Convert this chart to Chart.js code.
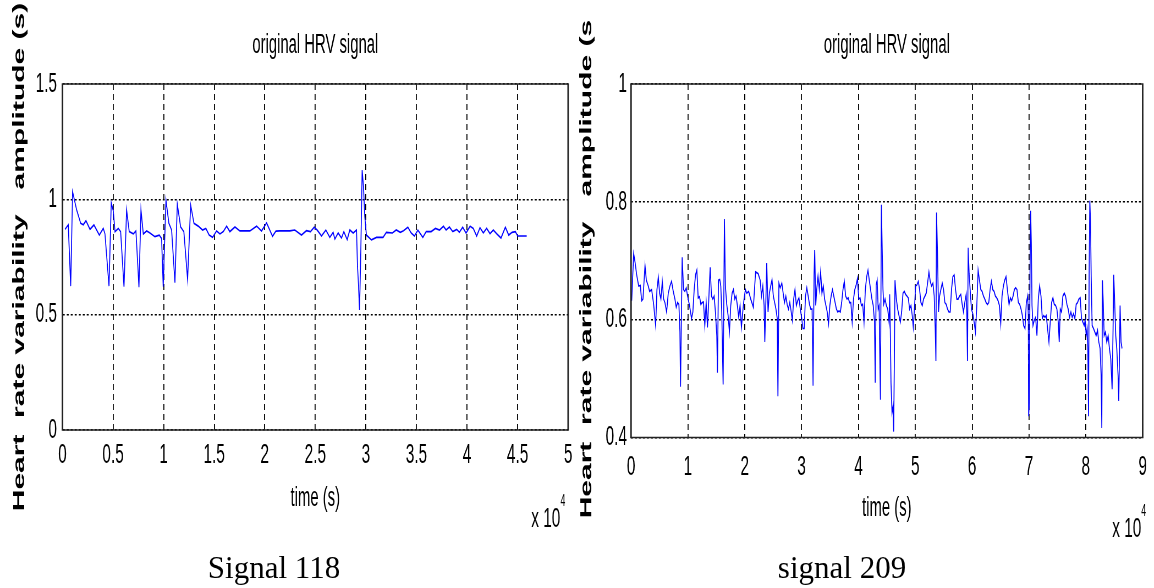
<!DOCTYPE html>
<html>
<head>
<meta charset="utf-8">
<script src="https://cdn.jsdelivr.net/npm/chart.js@4.4.1/dist/chart.umd.min.js"></script>
<style>
    html, body { margin: 0; padding: 0; background: #fff; }
    body { width: 1154px; height: 588px; position: relative; overflow: hidden; }
    /* the source figure is squeezed horizontally, so every panel is drawn wide and scaled down */
    .squeeze { position: absolute; top: 0; width: 1049px; height: 588px; transform: scaleX(0.55); transform-origin: 0 0; }
    .squeeze canvas { display: block; }
    .exp { position: absolute; font: 28px "Liberation Sans", Arial, sans-serif; line-height: 28px; color: #000; white-space: nowrap; }
    .exp span { position: relative; top: -21px; font-size: 16px; }
    .caption { position: absolute; top: 552px; width: 400px; text-align: center; font: 31px "Liberation Serif", "Times New Roman", serif; line-height: 31px; color: #000; }
</style>
</head>
<body>
<div class="squeeze" style="left:0px">
    <canvas id="chart118"></canvas>
    <div class="exp" style="left:966px; top:504px">x 10<span>4</span></div>
</div>
<div class="squeeze" style="left:577px">
    <canvas id="chart209"></canvas>
    <div class="exp" style="left:973px; top:514px">x 10<span>4</span></div>
</div>
<div class="caption" style="left:74px">Signal 118</div>
<div class="caption" style="left:642px">signal 209</div>

<script>
var SQUEEZE = 0.55;
var FONT = '"Liberation Sans", Arial, sans-serif';

// Signal 118 - time in units of 10^4 s, amplitude in s
var time118 = [
    0.025, 0.057, 0.081, 0.100, 0.140, 0.180, 0.206, 0.232, 0.272, 0.311,
    0.364, 0.403, 0.420, 0.460, 0.482, 0.502, 0.519, 0.552, 0.575, 0.608,
    0.634, 0.660, 0.700, 0.726, 0.756, 0.776, 0.799, 0.832, 0.865, 0.914,
    0.957, 0.980, 0.996, 1.023, 1.052, 1.079, 1.112, 1.135, 1.168, 1.200,
    1.237, 1.267, 1.300, 1.342, 1.385, 1.418, 1.450, 1.484, 1.524, 1.557,
    1.590, 1.623, 1.655, 1.705, 1.754, 1.853, 1.919, 1.968, 2.018, 2.077,
    2.110, 2.149, 2.248, 2.297, 2.363, 2.412, 2.452, 2.488, 2.518, 2.561,
    2.604, 2.643, 2.676, 2.693, 2.726, 2.759, 2.782, 2.815, 2.841, 2.874,
    2.907, 2.917, 2.927, 2.937, 2.950, 2.963, 2.976, 2.989, 3.005, 3.055,
    3.105, 3.170, 3.202, 3.262, 3.300, 3.340, 3.372, 3.415, 3.448, 3.480,
    3.514, 3.563, 3.596, 3.645, 3.688, 3.728, 3.767, 3.793, 3.826, 3.859,
    3.898, 3.924, 3.957, 3.990, 4.030, 4.062, 4.095, 4.128, 4.161, 4.194,
    4.227, 4.260, 4.293, 4.336, 4.379, 4.412, 4.445, 4.478, 4.501, 4.590
];
var hrv118 = [
    0.870, 0.889, 0.624, 1.033, 0.954, 0.896, 0.890, 0.907, 0.870, 0.889,
    0.845, 0.874, 0.850, 0.624, 0.985, 0.950, 0.860, 0.874, 0.860, 0.621,
    0.954, 0.860, 0.850, 0.863, 0.619, 0.954, 0.850, 0.863, 0.854, 0.838,
    0.845, 0.830, 0.621, 0.997, 0.896, 0.867, 0.639, 0.980, 0.880, 0.860,
    0.653, 0.975, 0.896, 0.884, 0.867, 0.874, 0.845, 0.835, 0.863, 0.850,
    0.860, 0.884, 0.860, 0.880, 0.863, 0.863, 0.884, 0.863, 0.898, 0.840,
    0.862, 0.863, 0.863, 0.867, 0.845, 0.864, 0.860, 0.879, 0.867, 0.841,
    0.867, 0.835, 0.857, 0.828, 0.854, 0.832, 0.860, 0.825, 0.867, 0.854,
    0.867, 0.708, 0.629, 0.520, 0.780, 1.127, 1.055, 0.925, 0.845, 0.824,
    0.835, 0.835, 0.857, 0.854, 0.867, 0.857, 0.864, 0.879, 0.854, 0.841,
    0.867, 0.835, 0.860, 0.860, 0.874, 0.867, 0.883, 0.867, 0.880, 0.860,
    0.870, 0.857, 0.879, 0.854, 0.883, 0.874, 0.841, 0.877, 0.854, 0.874,
    0.851, 0.867, 0.851, 0.832, 0.879, 0.845, 0.857, 0.860, 0.841, 0.841
];
var xTicks118 = [0, 0.5, 1, 1.5, 2, 2.5, 3, 3.5, 4, 4.5, 5];
var yTicks118 = [0, 0.5, 1, 1.5];

// signal 209
var time209 = [
    0.012, 0.023, 0.047, 0.070, 0.099, 0.135, 0.164, 0.187, 0.210, 0.246,
    0.269, 0.304, 0.327, 0.363, 0.398, 0.433, 0.456, 0.480, 0.503, 0.526,
    0.550, 0.573, 0.596, 0.626, 0.655, 0.684, 0.713, 0.743, 0.772, 0.795,
    0.819, 0.842, 0.860, 0.871, 0.889, 0.900, 0.924, 0.947, 0.971, 0.994,
    1.029, 1.064, 1.088, 1.111, 1.135, 1.158, 1.181, 1.205, 1.228, 1.251,
    1.275, 1.298, 1.322, 1.345, 1.368, 1.392, 1.415, 1.439, 1.462, 1.485,
    1.509, 1.520, 1.538, 1.561, 1.579, 1.596, 1.620, 1.643, 1.660, 1.684,
    1.708, 1.731, 1.754, 1.778, 1.801, 1.825, 1.848, 1.871, 1.895, 1.918,
    1.942, 1.965, 1.988, 2.012, 2.035, 2.070, 2.105, 2.152, 2.191, 2.237,
    2.272, 2.295, 2.318, 2.341, 2.353, 2.370, 2.387, 2.410, 2.434, 2.457,
    2.480, 2.503, 2.526, 2.549, 2.572, 2.584, 2.601, 2.624, 2.653, 2.676,
    2.699, 2.723, 2.746, 2.769, 2.792, 2.815, 2.838, 2.861, 2.884, 2.908,
    2.931, 2.954, 2.977, 3.000, 3.023, 3.046, 3.069, 3.092, 3.116, 3.139,
    3.162, 3.185, 3.202, 3.220, 3.231, 3.249, 3.266, 3.289, 3.312, 3.335,
    3.358, 3.382, 3.405, 3.428, 3.451, 3.474, 3.497, 3.520, 3.543, 3.566,
    3.590, 3.613, 3.636, 3.659, 3.682, 3.705, 3.728, 3.751, 3.775, 3.798,
    3.821, 3.844, 3.867, 3.890, 3.913, 3.936, 3.960, 3.983, 4.006, 4.029,
    4.052, 4.075, 4.098, 4.121, 4.145, 4.168, 4.191, 4.214, 4.237, 4.260,
    4.283, 4.295, 4.312, 4.329, 4.347, 4.364, 4.376, 4.387, 4.404, 4.418,
    4.432, 4.444, 4.468, 4.491, 4.515, 4.538, 4.550, 4.561, 4.573, 4.591,
    4.608, 4.620, 4.632, 4.643, 4.667, 4.690, 4.713, 4.737, 4.760, 4.784,
    4.807, 4.830, 4.854, 4.877, 4.900, 4.924, 4.947, 4.965, 4.982, 5.006,
    5.029, 5.053, 5.076, 5.099, 5.123, 5.146, 5.170, 5.193, 5.216, 5.240,
    5.263, 5.287, 5.310, 5.333, 5.351, 5.363, 5.374, 5.392, 5.409, 5.427,
    5.450, 5.474, 5.497, 5.520, 5.544, 5.567, 5.591, 5.614, 5.637, 5.661,
    5.684, 5.708, 5.731, 5.754, 5.778, 5.801, 5.825, 5.848, 5.871, 5.895,
    5.906, 5.918, 5.930, 5.947, 5.965, 5.988, 6.012, 6.035, 6.058, 6.082,
    6.105, 6.129, 6.152, 6.175, 6.199, 6.222, 6.246, 6.269, 6.292, 6.316,
    6.339, 6.363, 6.386, 6.409, 6.433, 6.456, 6.480, 6.503, 6.526, 6.550,
    6.573, 6.596, 6.620, 6.649, 6.673, 6.696, 6.720, 6.743, 6.766, 6.789,
    6.813, 6.836, 6.860, 6.883, 6.906, 6.930, 6.953, 6.977, 6.988, 6.994,
    7.006, 7.018, 7.029, 7.041, 7.053, 7.070, 7.094, 7.117, 7.140, 7.164,
    7.187, 7.211, 7.234, 7.257, 7.281, 7.304, 7.327, 7.351, 7.374, 7.398,
    7.421, 7.444, 7.468, 7.491, 7.515, 7.532, 7.550, 7.573, 7.596, 7.620,
    7.643, 7.667, 7.690, 7.713, 7.737, 7.760, 7.784, 7.807, 7.830, 7.854,
    7.877, 7.901, 7.924, 7.947, 7.971, 7.988, 8.006, 8.023, 8.035, 8.047,
    8.058, 8.070, 8.082, 8.094, 8.111, 8.135, 8.158, 8.181, 8.205, 8.228,
    8.251, 8.269, 8.281, 8.292, 8.304, 8.322, 8.345, 8.368, 8.392, 8.415,
    8.439, 8.462, 8.479, 8.491, 8.509, 8.526, 8.544, 8.567, 8.579, 8.591,
    8.602, 8.620, 8.637
];
var hrv209 = [
    0.632, 0.659, 0.712, 0.698, 0.676, 0.657, 0.658, 0.632, 0.635, 0.692,
    0.667, 0.657, 0.648, 0.651, 0.626, 0.590, 0.651, 0.672, 0.645, 0.635,
    0.665, 0.635, 0.629, 0.613, 0.645, 0.657, 0.665, 0.648, 0.635, 0.621,
    0.629, 0.626, 0.579, 0.486, 0.624, 0.706, 0.651, 0.648, 0.654, 0.640,
    0.624, 0.602, 0.613, 0.651, 0.676, 0.684, 0.637, 0.639, 0.626, 0.629,
    0.630, 0.590, 0.629, 0.587, 0.635, 0.689, 0.640, 0.635, 0.640, 0.613,
    0.573, 0.510, 0.667, 0.668, 0.657, 0.613, 0.490, 0.771, 0.657, 0.626,
    0.607, 0.579, 0.624, 0.645, 0.651, 0.635, 0.640, 0.624, 0.604, 0.624,
    0.587, 0.613, 0.635, 0.651, 0.645, 0.648, 0.635, 0.621, 0.681, 0.678,
    0.667, 0.640, 0.657, 0.624, 0.562, 0.624, 0.696, 0.613, 0.645, 0.657,
    0.668, 0.640, 0.629, 0.618, 0.602, 0.470, 0.662, 0.654, 0.662, 0.645,
    0.629, 0.640, 0.626, 0.618, 0.629, 0.615, 0.599, 0.635, 0.651, 0.624,
    0.632, 0.637, 0.618, 0.604, 0.585, 0.585, 0.640, 0.654, 0.640, 0.626,
    0.618, 0.618, 0.488, 0.676, 0.718, 0.624, 0.651, 0.674, 0.651, 0.681,
    0.645, 0.657, 0.635, 0.624, 0.613, 0.593, 0.624, 0.640, 0.651, 0.640,
    0.629, 0.618, 0.613, 0.615, 0.613, 0.629, 0.651, 0.665, 0.640, 0.635,
    0.637, 0.629, 0.629, 0.596, 0.635, 0.651, 0.659, 0.670, 0.635, 0.637,
    0.624, 0.626, 0.596, 0.651, 0.673, 0.684, 0.667, 0.651, 0.635, 0.624,
    0.596, 0.493, 0.659, 0.667, 0.618, 0.624, 0.542, 0.464, 0.795, 0.720,
    0.651, 0.626, 0.635, 0.624, 0.618, 0.596, 0.643, 0.579, 0.493, 0.442,
    0.453, 0.410, 0.533, 0.667, 0.635, 0.618, 0.607, 0.596, 0.613, 0.645,
    0.648, 0.643, 0.640, 0.637, 0.618, 0.624, 0.607, 0.587, 0.613, 0.657,
    0.659, 0.665, 0.651, 0.629, 0.624, 0.635, 0.640, 0.645, 0.662, 0.681,
    0.665, 0.657, 0.662, 0.640, 0.585, 0.530, 0.782, 0.706, 0.613, 0.640,
    0.651, 0.662, 0.651, 0.629, 0.626, 0.618, 0.613, 0.613, 0.651, 0.673,
    0.676, 0.651, 0.635, 0.635, 0.640, 0.643, 0.626, 0.613, 0.629, 0.643,
    0.613, 0.530, 0.722, 0.678, 0.651, 0.618, 0.610, 0.596, 0.579, 0.624,
    0.684, 0.667, 0.651, 0.648, 0.640, 0.635, 0.629, 0.626, 0.629, 0.651,
    0.665, 0.651, 0.648, 0.640, 0.637, 0.632, 0.624, 0.593, 0.640, 0.657,
    0.667, 0.673, 0.651, 0.626, 0.637, 0.632, 0.640, 0.651, 0.654, 0.651,
    0.629, 0.626, 0.618, 0.607, 0.590, 0.585, 0.629, 0.640, 0.607, 0.436,
    0.459, 0.678, 0.785, 0.727, 0.624, 0.590, 0.599, 0.604, 0.573, 0.635,
    0.657, 0.640, 0.602, 0.607, 0.604, 0.607, 0.585, 0.562, 0.596, 0.629,
    0.637, 0.626, 0.624, 0.618, 0.596, 0.562, 0.618, 0.613, 0.640, 0.645,
    0.640, 0.626, 0.618, 0.604, 0.613, 0.604, 0.610, 0.602, 0.626, 0.629,
    0.635, 0.637, 0.602, 0.596, 0.590, 0.599, 0.573, 0.585, 0.551, 0.436,
    0.673, 0.802, 0.766, 0.673, 0.590, 0.585, 0.579, 0.573, 0.582, 0.562,
    0.551, 0.505, 0.416, 0.667, 0.635, 0.573, 0.579, 0.562, 0.573, 0.551,
    0.533, 0.482, 0.585, 0.676, 0.624, 0.573, 0.551, 0.505, 0.462, 0.539,
    0.624, 0.562, 0.551
];
var xTicks209 = [0, 1, 2, 3, 4, 5, 6, 7, 8, 9];
var yTicks209 = [0.4, 0.6, 0.8, 1];

// MATLAB style box round the plot area
var framePlugin = {
    id: 'frame',
    afterDatasetsDraw: function(chart) {
        var a = chart.chartArea;
        var ctx = chart.ctx;
        var vw = 1.6 / SQUEEZE;
        ctx.save();
        ctx.strokeStyle = '#222';
        ctx.lineWidth = 1.6;
        ctx.beginPath();
        ctx.moveTo(a.left - vw / 2, a.top);
        ctx.lineTo(a.right + vw / 2, a.top);
        ctx.moveTo(a.left - vw / 2, a.bottom);
        ctx.lineTo(a.right + vw / 2, a.bottom);
        ctx.stroke();
        ctx.lineWidth = vw;
        ctx.beginPath();
        ctx.moveTo(a.left, a.top);
        ctx.lineTo(a.left, a.bottom);
        ctx.moveTo(a.right, a.top);
        ctx.lineTo(a.right, a.bottom);
        ctx.stroke();
        ctx.restore();
    }
};

function makeHrvChart(canvasId, cfg) {
    var points = cfg.time.map(function(t, i) {
        return { x: t, y: cfg.values[i] };
    });

    return new Chart(document.getElementById(canvasId), {
        type: 'line',
        data: {
            datasets: [{
                data: points,
                borderColor: '#0000ff',
                borderWidth: 1.7,
                pointRadius: 0,
                tension: 0,
                fill: false
            }]
        },
        options: {
            responsive: true,
            maintainAspectRatio: false,
            animation: false,
            events: [],
            layout: { padding: { left: 0, top: 0, right: cfg.padRight, bottom: 0 } },
            plugins: {
                legend: { display: false },
                tooltip: { enabled: false },
                title: {
                    display: true,
                    fullSize: false,
                    text: 'original HRV signal',
                    color: '#000',
                    font: { family: FONT, size: 27, weight: 'normal' },
                    padding: { top: 29.3, bottom: 22.3 }
                }
            },
            scales: {
                x: {
                    type: 'linear',
                    min: cfg.xTicks[0],
                    max: cfg.xTicks[cfg.xTicks.length - 1],
                    afterBuildTicks: function(axis) {
                        axis.ticks = cfg.xTicks.map(function(v) { return { value: v }; });
                    },
                    afterFit: function(axis) {
                        axis.height = 588 - cfg.plotBottom;
                    },
                    ticks: {
                        autoSkip: false,
                        maxRotation: 0,
                        padding: cfg.xTickPad,
                        color: '#000',
                        font: { family: FONT, size: 28 },
                        callback: function(value) { return String(value); }
                    },
                    grid: { color: '#000', lineWidth: 1 / SQUEEZE, drawTicks: false },
                    border: { display: false, dash: [6, 4] },
                    title: {
                        display: true,
                        text: 'time (s)',
                        color: '#000',
                        font: { family: FONT, size: 27 },
                        padding: { top: 0, bottom: cfg.xTitlePad }
                    }
                },
                y: {
                    min: cfg.yTicks[0],
                    max: cfg.yTicks[cfg.yTicks.length - 1],
                    afterBuildTicks: function(axis) {
                        axis.ticks = cfg.yTicks.map(function(v) { return { value: v }; });
                    },
                    afterFit: function(axis) {
                        axis.width = cfg.plotLeft;
                    },
                    ticks: {
                        padding: cfg.yTickPad,
                        color: '#000',
                        font: { family: FONT, size: 28 },
                        callback: function(value) { return String(value); }
                    },
                    grid: { color: '#000', lineWidth: 1.5, drawTicks: false },
                    border: { display: false, dash: [2 / SQUEEZE, 2 / SQUEEZE] },
                    title: {
                        display: true,
                        text: cfg.yTitle,
                        color: '#000',
                        font: { family: FONT, size: 30, weight: 'bold' },
                        padding: { top: cfg.yTitlePad, bottom: 0 }
                    }
                }
            }
        },
        plugins: [framePlugin]
    });
}

makeHrvChart('chart118', {
    time: time118,
    values: hrv118,
    xTicks: xTicks118,
    yTicks: yTicks118,
    yTitle: 'Heart  rate variability   amplitude (s)',
    plotLeft: 113.6,
    padRight: 15.4,
    plotBottom: 430,
    xTickPad: 8.2,
    xTitlePad: 72.8,
    yTickPad: 10,
    yTitlePad: 17.5
});

// the label of the second panel is cut at the top of the figure
makeHrvChart('chart209', {
    time: time209,
    values: hrv209,
    xTicks: xTicks209,
    yTicks: yTicks209,
    yTitle: 'Heart  rate variability   amplitude (s  ',
    plotLeft: 98.2,
    padRight: 9,
    plotBottom: 437.5,
    xTickPad: 12.7,
    xTitlePad: 62.8,
    yTickPad: 7.3,
    yTitlePad: 0.2
});
</script>
</body>
</html>
